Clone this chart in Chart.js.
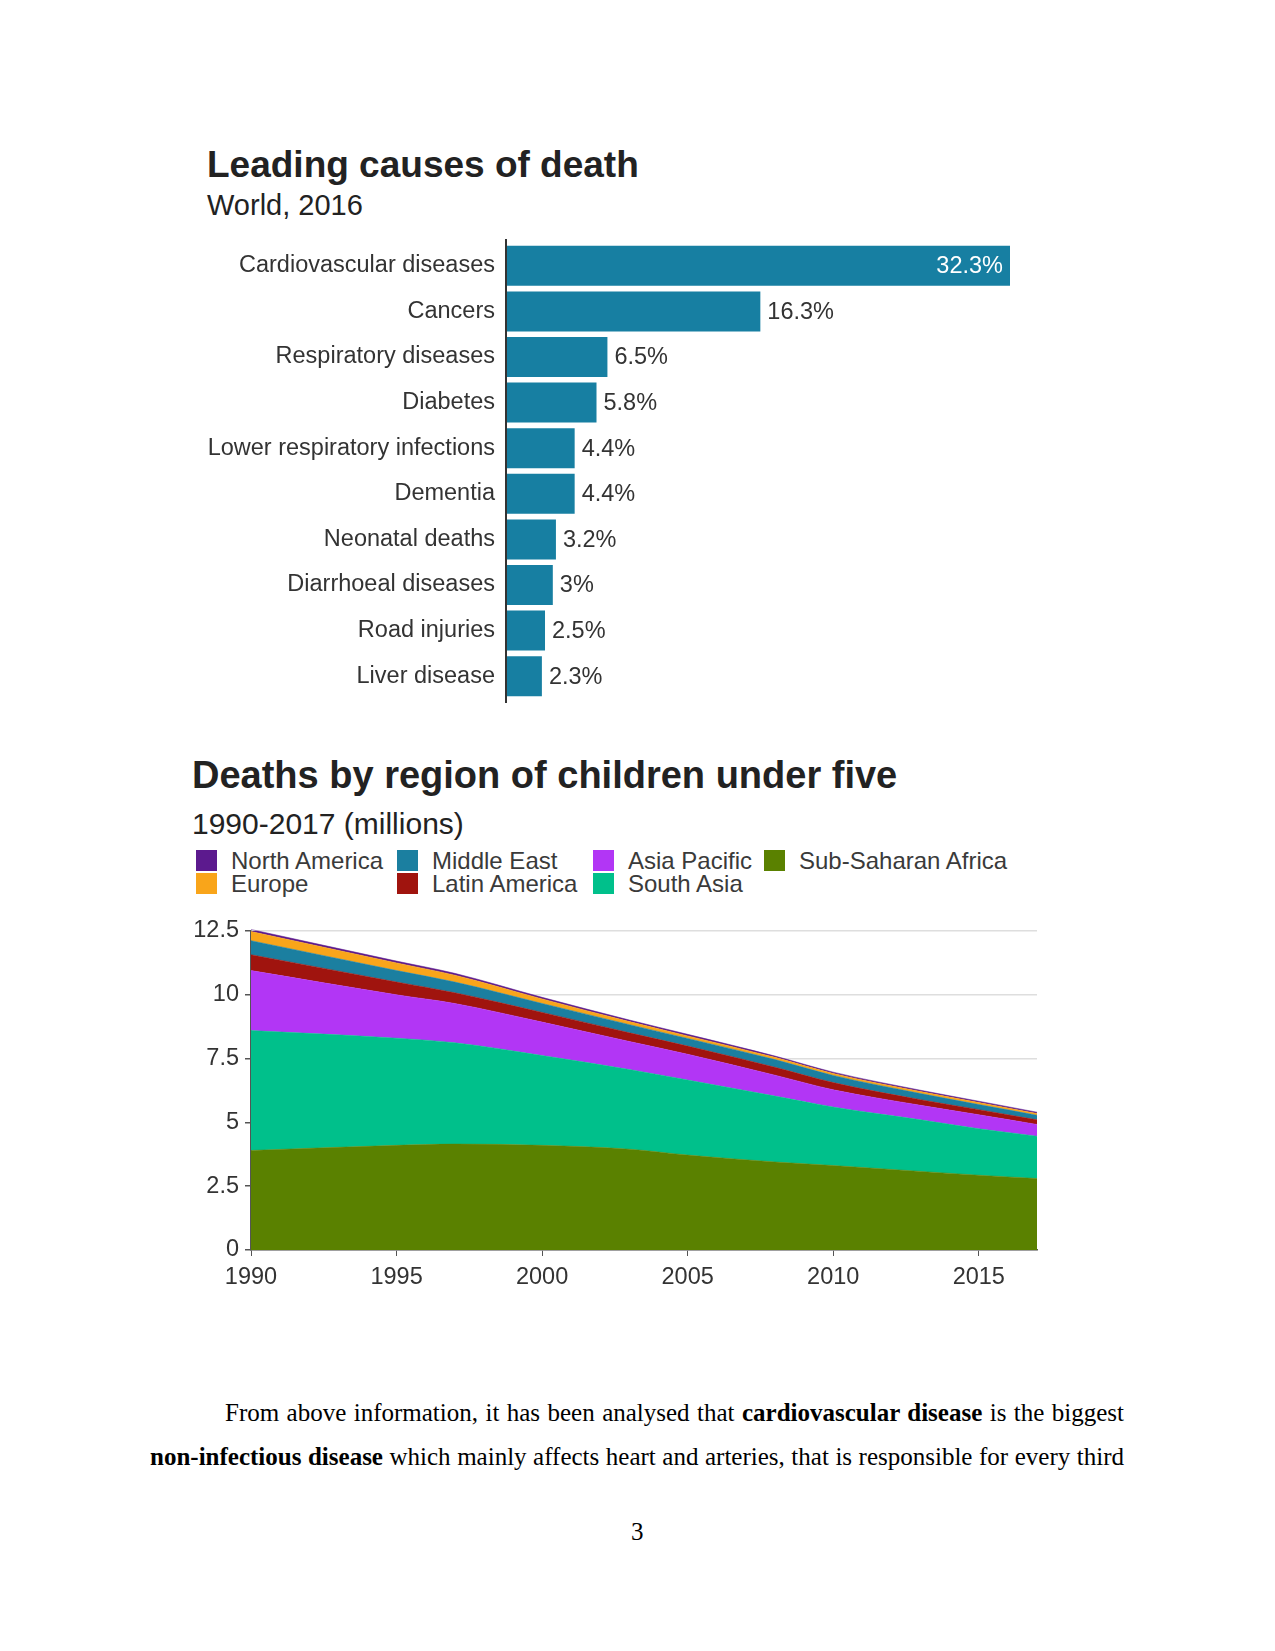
<!DOCTYPE html>
<html>
<head>
<meta charset="utf-8">
<script src="https://cdn.jsdelivr.net/npm/chart.js@4.4.0/dist/chart.umd.min.js"></script>
<style>
  html, body { margin: 0; padding: 0; background: #fff; }
  body { width: 1275px; height: 1651px; position: relative; overflow: hidden;
         font-family: "Liberation Sans", Arial, sans-serif; }
  .abs { position: absolute; white-space: nowrap; line-height: 1; }
  .title { font-weight: bold; color: #222; }
  .sub { color: #222; }
  .swatch { position: absolute; width: 21px; height: 21px; }
  .leg { position: absolute; font-size: 24px; line-height: 1; color: #3a3a3a; white-space: nowrap; }
  canvas { position: absolute; left: 0; }
  .para { position: absolute; font-family: "Liberation Serif", "Times New Roman", serif;
          font-size: 25px; line-height: 1; color: #000; text-align: justify; text-align-last: justify; white-space: nowrap; }
</style>
</head>
<body>

<div class="abs title" style="left:207px; top:146px; font-size:37px;">Leading causes of death</div>
<div class="abs sub" style="left:207px; top:191px; font-size:29px;">World, 2016</div>
<canvas id="chart-causes" width="1275" height="540" style="top:200px;"></canvas>

<div class="abs title" style="left:192px; top:756px; font-size:38px;">Deaths by region of children under five</div>
<div class="abs sub" style="left:192px; top:809px; font-size:30px;">1990-2017 (millions)</div>
<div id="legend"></div>
<canvas id="chart-regions" width="1275" height="400" style="top:900px;"></canvas>

<div class="para" style="left:225px; width:899px; top:1400px;">From above information, it has been analysed that <b>cardiovascular disease</b> is the biggest</div>
<div class="para" style="left:150px; width:974px; top:1444px;"><b>non-infectious disease</b> which mainly affects heart and arteries, that is responsible for every third</div>
<div class="abs" style="left:631px; top:1519px; font-family:'Liberation Serif', serif; font-size:25px;">3</div>

<script>
// ===== Data =====
const causeLabels = [
  'Cardiovascular diseases', 'Cancers', 'Respiratory diseases', 'Diabetes',
  'Lower respiratory infections', 'Dementia', 'Neonatal deaths',
  'Diarrhoeal diseases', 'Road injuries', 'Liver disease'
];
const causeShares = [32.3, 16.3, 6.5, 5.8, 4.4, 4.4, 3.2, 3, 2.5, 2.3];

const years = [1990, 1995, 1997, 2000, 2003, 2005, 2008, 2010, 2013, 2015, 2017];
const subSaharanAfrica = [3.90, 4.10, 4.15, 4.10, 3.95, 3.72, 3.45, 3.31, 3.08, 2.93, 2.80];
const southAsia        = [4.70, 4.20, 3.97, 3.52, 3.12, 2.94, 2.58, 2.29, 2.02, 1.82, 1.66];
const asiaPacific      = [2.35, 1.70, 1.54, 1.31, 1.10, 1.01, 0.82, 0.68, 0.57, 0.55, 0.46];
const latinAmerica     = [0.62, 0.50, 0.42, 0.38, 0.34, 0.32, 0.31, 0.28, 0.22, 0.20, 0.18];
const middleEast       = [0.55, 0.45, 0.42, 0.35, 0.32, 0.30, 0.30, 0.28, 0.24, 0.20, 0.18];
const europe           = [0.36, 0.30, 0.27, 0.18, 0.12, 0.10, 0.09, 0.08, 0.08, 0.08, 0.07];
const northAmerica     = [0.08, 0.07, 0.07, 0.06, 0.06, 0.06, 0.05, 0.05, 0.05, 0.05, 0.05];

const yearTicks = [1990, 1995, 2000, 2005, 2010, 2015];
const deathTicks = [0, 2.5, 5, 7.5, 10, 12.5];

// bottom to top in the stack
const regions = [
  { name: 'Sub-Saharan Africa', values: subSaharanAfrica, color: '#5a8100' },
  { name: 'South Asia',         values: southAsia,        color: '#00c08b' },
  { name: 'Asia Pacific',       values: asiaPacific,      color: '#b236f5' },
  { name: 'Latin America',      values: latinAmerica,     color: '#a0140e' },
  { name: 'Middle East',        values: middleEast,       color: '#1b7fa0' },
  { name: 'Europe',             values: europe,           color: '#f9a51a' },
  { name: 'North America',      values: northAmerica,     color: '#5c1a8e' },
];

const FONT = '"Liberation Sans", Arial, sans-serif';
const BAR_COLOR = '#177fa2';
const TEXT = '#333';

Chart.defaults.font.family = FONT;
Chart.defaults.color = TEXT;
Chart.defaults.animation = false;

// ===== Legend (two rows, filled column by column) =====
(function buildLegend() {
  const columns = [
    ['North America', 'Europe'],
    ['Middle East', 'Latin America'],
    ['Asia Pacific', 'South Asia'],
    ['Sub-Saharan Africa'],
  ];
  const colX = [196, 397, 593, 764];
  const rowY = [850, 873];
  const host = document.getElementById('legend');
  columns.forEach((names, c) => {
    names.forEach((name, r) => {
      const reg = regions.find(g => g.name === name);
      const sw = document.createElement('div');
      sw.className = 'swatch';
      sw.style.left = colX[c] + 'px';
      sw.style.top = rowY[r] + 'px';
      sw.style.background = reg.color;
      host.appendChild(sw);
      const tx = document.createElement('div');
      tx.className = 'leg';
      tx.style.left = (colX[c] + 35) + 'px';
      tx.style.top = (rowY[r] - 1) + 'px';
      tx.textContent = name;
      host.appendChild(tx);
    });
  });
})();

// ===== Leading causes bar chart =====
const barValueLabels = {
  id: 'barValueLabels',
  afterDatasetsDraw(chart) {
    const ctx = chart.ctx;
    const meta = chart.getDatasetMeta(0);
    const top = Math.max(...causeShares);
    ctx.save();
    ctx.font = `23.5px ${FONT}`;
    ctx.textBaseline = 'middle';
    meta.data.forEach((bar, i) => {
      const text = causeShares[i] + '%';
      if (causeShares[i] === top) {
        ctx.fillStyle = '#fff';
        ctx.textAlign = 'right';
        ctx.fillText(text, bar.x - 7, bar.y + 1);
      } else {
        ctx.fillStyle = TEXT;
        ctx.textAlign = 'left';
        ctx.fillText(text, bar.x + 7, bar.y + 1);
      }
    });
    // vertical axis line, a little taller than the bars
    const area = chart.chartArea;
    ctx.strokeStyle = '#333';
    ctx.lineWidth = 2;
    ctx.beginPath();
    ctx.moveTo(area.left, area.top - 4);
    ctx.lineTo(area.left, area.bottom + 4);
    ctx.stroke();
    ctx.restore();
  }
};

new Chart(document.getElementById('chart-causes'), {
  type: 'bar',
  data: {
    labels: causeLabels,
    datasets: [{
      data: causeShares,
      backgroundColor: BAR_COLOR,
      borderWidth: 0,
      barPercentage: 0.877,
      categoryPercentage: 1,
    }]
  },
  options: {
    indexAxis: 'y',
    responsive: false,
    layout: { padding: { top: 43, bottom: 41, right: 265, left: 0 } },
    plugins: { legend: { display: false }, tooltip: { enabled: false } },
    scales: {
      x: { display: false, min: 0, max: Math.max(...causeShares) },
      y: {
        grid: { display: false, drawTicks: false },
        border: { display: false },
        ticks: { padding: 11, color: TEXT, font: { size: 23.5 } },
        afterFit: (scale) => { scale.width = 506; }
      }
    }
  },
  plugins: [barValueLabels]
});

// ===== Deaths by region stacked area chart =====
new Chart(document.getElementById('chart-regions'), {
  type: 'line',
  data: {
    datasets: regions.map((reg, i) => ({
      label: reg.name,
      data: years.map((yr, k) => ({ x: yr, y: reg.values[k] })),
      backgroundColor: reg.color,
      borderColor: reg.color,
      borderWidth: 0.5,
      pointRadius: 0,
      fill: i === 0 ? 'origin' : '-1',
      cubicInterpolationMode: 'monotone',
      clip: 6,
    }))
  },
  options: {
    responsive: false,
    layout: { padding: { top: 31, right: 238, bottom: 0, left: 0 } },
    plugins: { legend: { display: false }, tooltip: { enabled: false } },
    scales: {
      x: {
        type: 'linear',
        min: years[0],
        max: years[years.length - 1],
        afterBuildTicks: (scale) => { scale.ticks = yearTicks.map(v => ({ value: v })); },
        grid: { drawOnChartArea: false, drawTicks: true, tickLength: 6, tickColor: '#555' },
        border: { color: '#555', width: 1.5 },
        ticks: { padding: 7, color: TEXT, font: { size: 23.5 }, callback: (v) => String(v), maxRotation: 0 },
        afterFit: (scale) => { scale.height = 50; }
      },
      y: {
        stacked: true,
        min: 0,
        max: 12.5,
        afterBuildTicks: (scale) => { scale.ticks = deathTicks.map(v => ({ value: v })); },
        grid: { color: '#dedede', lineWidth: 1.5, tickLength: 6, tickColor: '#555' },
        border: { color: '#555', width: 1.5 },
        ticks: { padding: 6, color: TEXT, font: { size: 23.5 }, callback: (v) => String(v) },
        afterFit: (scale) => { scale.width = 251; }
      }
    }
  }
});
</script>
</body>
</html>
